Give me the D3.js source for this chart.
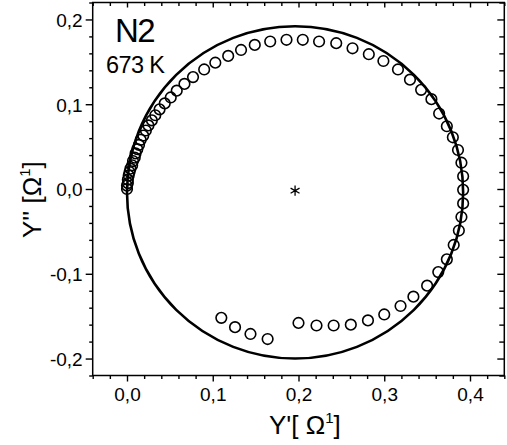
<!DOCTYPE html>
<html><head><meta charset="utf-8">
<script src="https://cdn.jsdelivr.net/npm/d3@7"></script>
<style>body{margin:0;background:#fff}svg{display:block}text{font-family:"Liberation Sans",Arial,sans-serif;fill:#000}</style>
</head><body>
<script>
// Measured admittance points Y' (x) and Y'' (y)
const measX = [0.000,0.000,0.001,0.001,0.002,0.003,0.004,0.006,0.007,0.009,0.010,0.012,0.014,0.016,0.019,0.022,0.025,0.029,0.033,0.038,0.044,0.051,0.058,0.067,0.077,0.090,0.103,0.118,0.133,0.149,0.167,0.186,0.205,0.224,0.244,0.263,0.282,0.299,0.316,0.330,0.343,0.355,0.364,0.373,0.380,0.386,0.390,0.392,0.392,0.392,0.390,0.387,0.381,0.373,0.363,0.350,0.334,0.319,0.300,0.281,0.261,0.241,0.221,0.200,0.164,0.144,0.126,0.110];
const measY = [0.000,0.004,0.007,0.011,0.016,0.020,0.024,0.028,0.033,0.037,0.042,0.047,0.052,0.058,0.063,0.069,0.075,0.081,0.087,0.094,0.101,0.108,0.116,0.124,0.132,0.141,0.149,0.157,0.164,0.170,0.174,0.176,0.176,0.174,0.172,0.166,0.159,0.151,0.141,0.129,0.117,0.106,0.089,0.074,0.061,0.046,0.031,0.015,-0.001,-0.017,-0.033,-0.049,-0.066,-0.083,-0.098,-0.114,-0.127,-0.138,-0.148,-0.155,-0.160,-0.161,-0.161,-0.158,-0.177,-0.171,-0.163,-0.152];
// Fitted circle (centre and radius) and centre marker
const fitCenter = [0.196, -0.004];
const fitRadius = [0.196, 0.196];
const starPoint = [0.196, -0.002];
const xTickValues = [0.0, 0.1, 0.2, 0.3, 0.4];
const yTickValues = [-0.2, -0.1, 0.0, 0.1, 0.2];
const xDomain = [-0.04, 0.44];
const yDomain = [-0.22, 0.22];
const sampleLabel = "N2";
const tempLabel = "673 K";

const W = 507, H = 445;
const svg = d3.select("body").append("svg").attr("width", W).attr("height", H);
const L = 92.7, R = 504.3, T = 2.5, B = 375.5;
const x = d3.scaleLinear().domain(xDomain).range([L, R]);
const y = d3.scaleLinear().domain(yDomain).range([B, T]);
const fmt = v => (v < -1e-9 ? "-" : "") + Math.abs(v).toFixed(1).replace(".", ",");
const minorX = d3.range(-0.04, 0.4401, 0.02).map(v => +v.toFixed(2)).filter(v => !xTickValues.some(t => Math.abs(t - v) < 1e-6));
const minorY = d3.range(-0.22, 0.2201, 0.02).map(v => +v.toFixed(2)).filter(v => !yTickValues.some(t => Math.abs(t - v) < 1e-6));

function axisGroup(axis, tx, ty) {
  const g = svg.append("g").attr("transform", `translate(${tx},${ty})`).call(axis);
  g.select(".domain").remove();
  g.selectAll("line").attr("stroke", "#000").attr("stroke-width", 1.4);
  return g;
}
// bottom
axisGroup(d3.axisBottom(x).tickValues(xTickValues).tickFormat(fmt).tickSize(6).tickPadding(6), 0, B)
  .selectAll("text").attr("font-size", 19).attr("fill", "#000");
axisGroup(d3.axisBottom(x).tickValues(minorX).tickFormat("").tickSize(3.5), 0, B);
// left
axisGroup(d3.axisLeft(y).tickValues(yTickValues).tickFormat(fmt).tickSize(7).tickPadding(3), L, 0)
  .selectAll("text").attr("font-size", 19).attr("fill", "#000").attr("dy", "0.36em");
axisGroup(d3.axisLeft(y).tickValues(minorY).tickFormat("").tickSize(3.5), L, 0);
// top (inward)
axisGroup(d3.axisBottom(x).tickValues(xTickValues).tickFormat("").tickSize(5), 0, T);
axisGroup(d3.axisBottom(x).tickValues(minorX).tickFormat("").tickSize(3.5), 0, T);
// right (inward)
axisGroup(d3.axisLeft(y).tickValues(yTickValues).tickFormat("").tickSize(7), R, 0);
axisGroup(d3.axisLeft(y).tickValues(minorY).tickFormat("").tickSize(5), R, 0);

// frame
svg.append("rect").attr("x", L).attr("y", T).attr("width", R - L).attr("height", B - T)
  .attr("fill", "none").attr("stroke", "#000").attr("stroke-width", 1.5);

// fitted circle
svg.append("ellipse")
  .attr("cx", x(fitCenter[0])).attr("cy", y(fitCenter[1]))
  .attr("rx", x(fitRadius[0]) - x(0)).attr("ry", y(0) - y(fitRadius[1]))
  .attr("fill", "none").attr("stroke", "#000").attr("stroke-width", 2.6);

// measured points
svg.append("g").selectAll("circle").data(measX.map((v, i) => [v, measY[i]])).join("circle")
  .attr("cx", d => x(d[0])).attr("cy", d => y(d[1])).attr("r", 5.3)
  .attr("fill", "none").attr("stroke", "#000").attr("stroke-width", 1.6);

// centre star
svg.append("path").attr("d", d3.symbol(d3.symbolAsterisk, 75)())
  .attr("transform", `translate(${x(starPoint[0])},${y(starPoint[1])})`)
  .attr("fill", "none").attr("stroke", "#000").attr("stroke-width", 1.3);

// labels
svg.append("text").attr("x", 115).attr("y", 42).attr("font-size", 33).attr("letter-spacing", -1.5).text(sampleLabel);
svg.append("text").attr("x", 106).attr("y", 73).attr("font-size", 23.5).attr("letter-spacing", -0.6).text(tempLabel);

// x title
const xt = svg.append("text").attr("x", 269).attr("y", 434).attr("font-size", 26);
xt.append("tspan").text("Y'[ Ω");
xt.append("tspan").attr("font-size", 15).attr("dy", -11).text("1");
xt.append("tspan").attr("dy", 11).text("]");
// y title
const yt = svg.append("text").attr("transform", "translate(41,238) rotate(-90)").attr("font-size", 26);
yt.append("tspan").text("Y'' [Ω");
yt.append("tspan").attr("font-size", 15).attr("dy", -11).text("1");
yt.append("tspan").attr("dy", 11).text("]");
</script>
</body></html>
